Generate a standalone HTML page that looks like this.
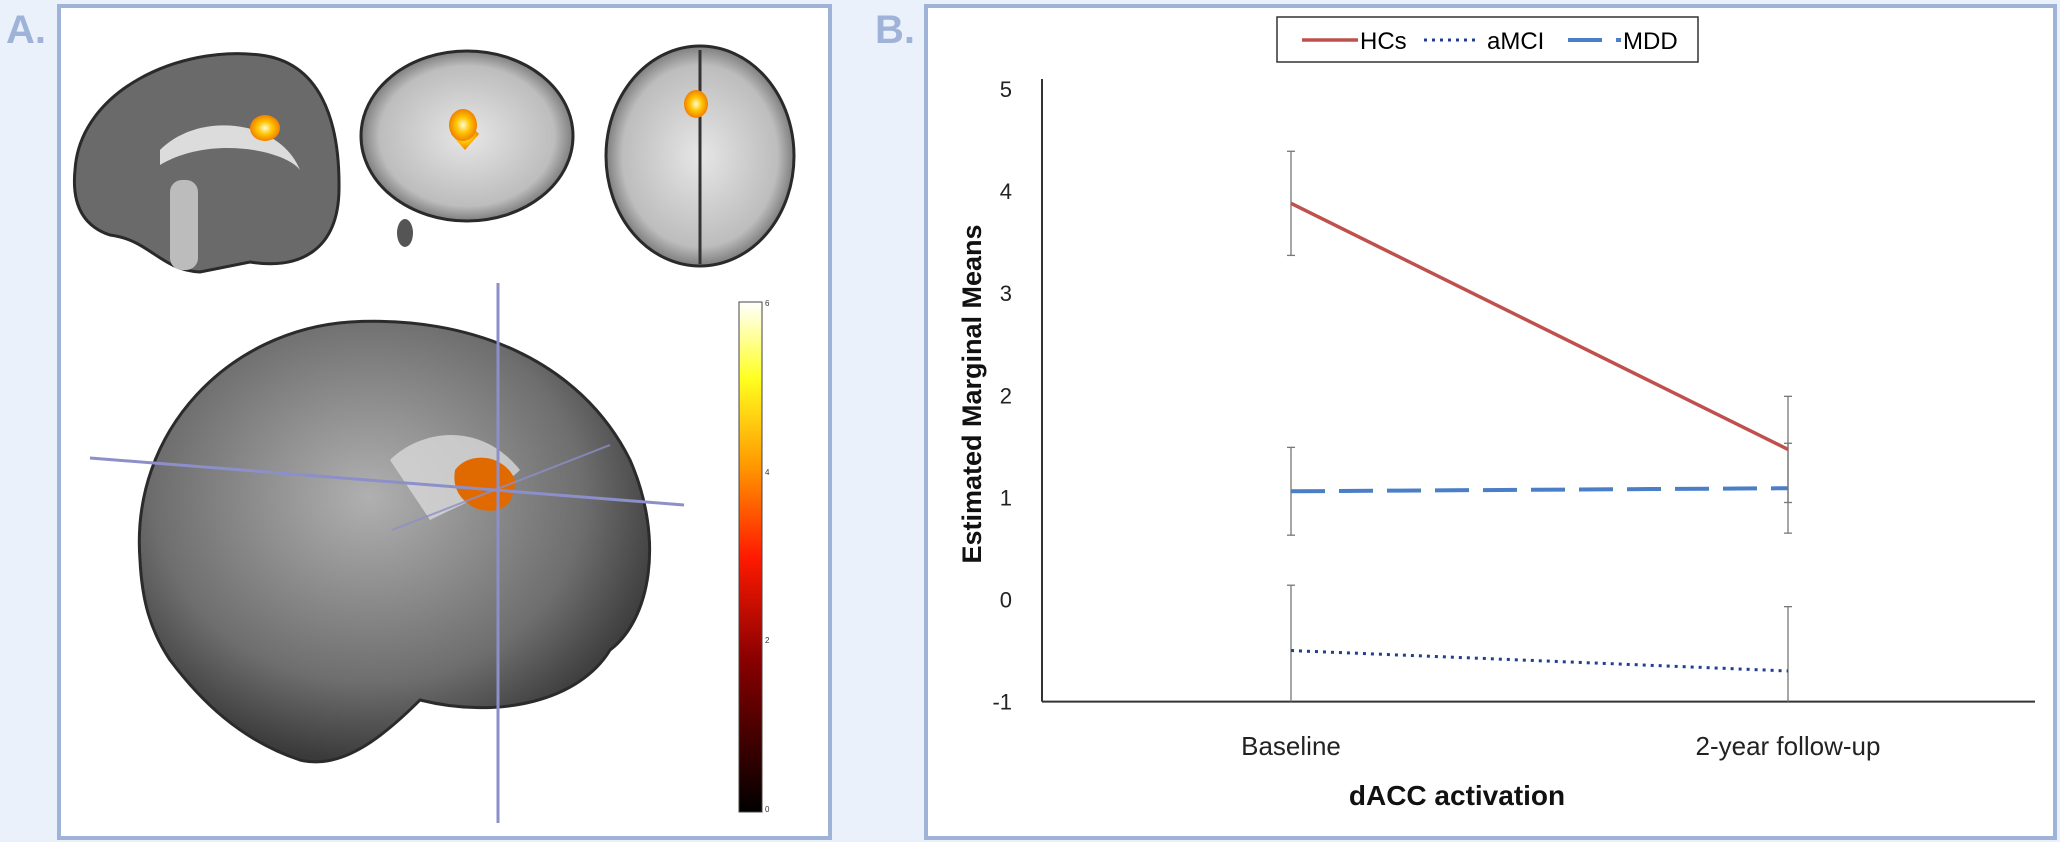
<!DOCTYPE html>
<html><head><meta charset="utf-8"><style>
html,body{margin:0;padding:0;background:#eaf1fa;}
svg{display:block;font-family:"Liberation Sans",sans-serif;}
</style></head><body>
<svg id="fig" width="2060" height="842" viewBox="0 0 2060 842">
<defs>
<radialGradient id="blob" cx="50%" cy="50%" r="50%"><stop offset="0" stop-color="#fffbd0"/><stop offset="0.5" stop-color="#ffc400"/><stop offset="1" stop-color="#f08000"/></radialGradient>
<radialGradient id="brainG" cx="45%" cy="40%" r="60%"><stop offset="0" stop-color="#b0b0b0"/><stop offset="0.7" stop-color="#6e6e6e"/><stop offset="1" stop-color="#3a3a3a"/></radialGradient>
<radialGradient id="sliceG" cx="50%" cy="50%" r="55%"><stop offset="0" stop-color="#e6e6e6"/><stop offset="0.75" stop-color="#bdbdbd"/><stop offset="1" stop-color="#5a5a5a"/></radialGradient>
<linearGradient id="cbar" x1="0" y1="1" x2="0" y2="0"><stop offset="0" stop-color="#000"/><stop offset="0.3" stop-color="#8a0000"/><stop offset="0.5" stop-color="#ff1a00"/><stop offset="0.68" stop-color="#ff9900"/><stop offset="0.85" stop-color="#ffff20"/><stop offset="1" stop-color="#ffffff"/></linearGradient>
</defs>
<rect x="0" y="0" width="2060" height="842" fill="#eaf1fa"/>
<!-- Panel A -->
<text x="6" y="43" font-size="40" font-weight="bold" fill="#9fb3d9">A.</text>
<rect x="59" y="6" width="771" height="832" fill="#fff" stroke="#9fb3d9" stroke-width="4"/>
<g>
<path d="M75,170 C80,90 180,45 260,55 C320,62 340,120 339,190 C338,250 300,270 250,262 L200,272 C160,270 150,240 110,235 C80,225 72,200 75,170Z" fill="#6a6a6a" stroke="#2a2a2a" stroke-width="3"/>
<path d="M160,150 C200,110 280,120 300,170 C285,150 210,135 160,165Z" fill="#dcdcdc"/>
<rect x="170" y="180" width="28" height="90" rx="12" fill="#bcbcbc"/>
<ellipse cx="265" cy="128" rx="15" ry="13" fill="url(#blob)"/>
</g>
<g>
<ellipse cx="467" cy="136" rx="106" ry="85" fill="url(#sliceG)" stroke="#2a2a2a" stroke-width="3"/>
<ellipse cx="405" cy="233" rx="8" ry="14" fill="#555"/>
<path d="M465,120 l14,14 l-14,16 l-14,-16z" fill="url(#blob)"/>
<ellipse cx="463" cy="125" rx="14" ry="16" fill="url(#blob)"/>
</g>
<g>
<ellipse cx="700" cy="156" rx="94" ry="110" fill="url(#sliceG)" stroke="#2a2a2a" stroke-width="3"/>
<line x1="700" y1="50" x2="700" y2="264" stroke="#333" stroke-width="3"/>
<ellipse cx="696" cy="104" rx="12" ry="14" fill="url(#blob)"/>
</g>
<g>
<path d="M140,560 C130,430 230,330 350,322 C470,315 580,360 630,460 C665,540 650,620 610,650 C580,700 500,720 420,700 C380,740 340,770 300,760 C240,740 200,700 170,660 C150,630 142,600 140,560Z" fill="url(#brainG)" stroke="#2b2b2b" stroke-width="3"/>
<path d="M390,460 C420,430 480,420 520,470 C500,490 470,500 430,520 Z" fill="#d8d8d8" opacity="0.8"/>
<path d="M455,470 C470,450 505,455 515,480 C515,510 495,515 475,508 C460,500 452,488 455,470Z" fill="#e06a00"/>
</g>
<line x1="498" y1="283" x2="498" y2="823" stroke="#8c8fc9" stroke-width="3"/>
<line x1="90" y1="458" x2="684" y2="505" stroke="#8c8fc9" stroke-width="3"/>
<line x1="392" y1="530" x2="610" y2="445" stroke="#8c8fc9" stroke-width="2" opacity="0.8"/>
<rect x="739" y="302" width="23" height="510" fill="url(#cbar)" stroke="#444" stroke-width="1"/>
<g font-size="8" fill="#333">
<text x="765" y="306">6</text><text x="765" y="475">4</text><text x="765" y="643">2</text><text x="765" y="812">0</text>
</g>
<!-- Panel B -->
<text x="875" y="43" font-size="40" font-weight="bold" fill="#9fb3d9">B.</text>
<rect x="926" y="6" width="1129" height="832" fill="#fff" stroke="#9fb3d9" stroke-width="4"/>
<g id="chart"></g>
<g>
<rect x="1277" y="17" width="421" height="45" fill="#fff" stroke="#333" stroke-width="1.5"/>
<g><line x1="1302" y1="40" x2="1358" y2="40" stroke="#c0504d" stroke-width="3.5"/><text x="1360" y="49" font-size="24">HCs</text></g>
<g><line x1="1424" y1="40" x2="1475" y2="40" stroke="#1f3f8f" stroke-width="3" stroke-dasharray="3,5"/><text x="1487" y="49" font-size="24">aMCI</text></g>
<g><line x1="1568" y1="40" x2="1602" y2="40" stroke="#4a7ec6" stroke-width="4"/><line x1="1616" y1="40" x2="1621" y2="40" stroke="#4a7ec6" stroke-width="4"/><text x="1623" y="49" font-size="24">MDD</text></g>
</g>
</svg>
<script>
const categories = ["Baseline", "2-year follow-up"];
const hcs = [3.88, 1.47];
const amci = [-0.5, -0.7];
const mdd = [1.06, 1.09];
const hcsErr = [0.51, 0.52];
const amciErr = [0.64, 0.63];
const mddErr = [0.43, 0.44];
const yTicks = [-1, 0, 1, 2, 3, 4, 5];
const yMin = -1, yMax = 5;
const NS = "http://www.w3.org/2000/svg";
const g = document.getElementById("chart");
const x0 = 1042, x1 = 2035, y0 = 701.6, y1 = 89;
const xPos = [1291, 1788];
function X(i){ return xPos[0] + (xPos[1]-xPos[0]) * i / (categories.length-1); }
function Y(v){ return y0 - (v - yMin) / (yMax - yMin) * (y0 - y1); }
function mk(tag, attrs){ const e = document.createElementNS(NS, tag); for (const k in attrs) e.setAttribute(k, attrs[k]); g.appendChild(e); return e; }
let e;
e = mk("line", {x1:x0, y1:Y(yMax)-10, x2:x0, y2:y0, stroke:"#333", "stroke-width":2});


e = mk("line", {x1:x0, y1:y0, x2:x1, y2:y0, stroke:"#333", "stroke-width":2});


yTicks.forEach(t => {
  e = mk("text", {x:x0-30, y:Y(t)+8, "font-size":22, "text-anchor":"end", fill:"#222"});
  e.textContent = t;
  
  
});
categories.forEach((c, i) => {
  e = mk("text", {x:X(i), y:755, "font-size":26, "text-anchor":"middle", fill:"#222"});
  e.textContent = c;
  
  
});
e = mk("text", {x:0, y:0, "font-size":27, "font-weight":"bold", "text-anchor":"middle", transform:"translate(981,394) rotate(-90)", fill:"#111"});
e.textContent = "Estimated Marginal Means";


e = mk("text", {x:1457, y:805, "font-size":28, "font-weight":"bold", "text-anchor":"middle", fill:"#111"});
e.textContent = "dACC activation";


function errBars(vals, errs, name){
  vals.forEach((v, i) => {
    const top = Y(v + errs[i]);
    const bot = Math.min(Y(v - errs[i]), y0);
    e = mk("line", {x1:X(i), y1:top, x2:X(i), y2:bot, stroke:"#777", "stroke-width":1.3});
    
    
    [top, bot].forEach(yy => { if (yy < y0) { e = mk("line", {x1:X(i)-4, y1:yy, x2:X(i)+4, y2:yy, stroke:"#777", "stroke-width":1.3});
      
       } });
  });
}
errBars(hcs, hcsErr, "hcs");
errBars(mdd, mddErr, "mdd");
errBars(amci, amciErr, "amci");
function series(vals, color, width, dash, name){
  const pts = vals.map((v, i) => X(i) + "," + Y(v)).join(" ");
  e = mk("polyline", {points:pts, fill:"none", stroke:color, "stroke-width":width, "stroke-dasharray":dash});
  
  
}
series(hcs, "#c0504d", 3.5, "none", "hcs-line");
series(mdd, "#4a7ec6", 4, "34,14", "mdd-line");
series(amci, "#1f3f8f", 3, "3,5", "amci-line");
</script>
</body></html>
